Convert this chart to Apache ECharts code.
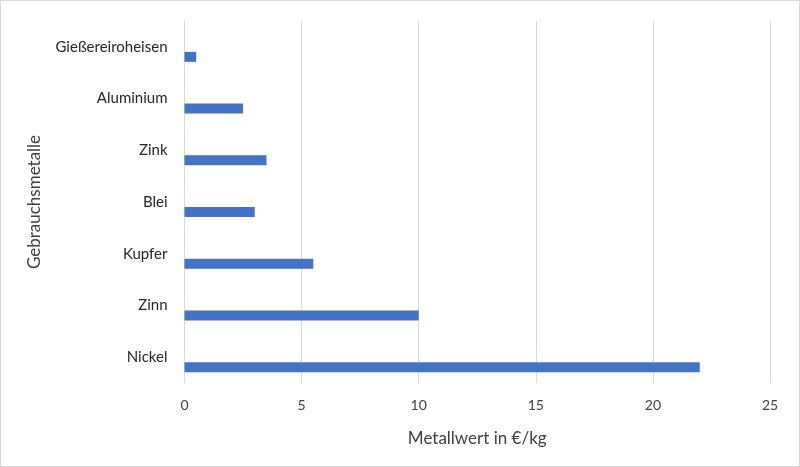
<!DOCTYPE html>
<html>
<head>
<meta charset="utf-8">
<script src="https://cdn.jsdelivr.net/npm/echarts@6/dist/echarts.min.js"></script>
<style>
html, body { margin: 0; padding: 0; background: #fff; }
#chart { width: 798px; height: 465px; border: 1px solid #d9d9d9; }
</style>
</head>
<body>
<div id="chart"></div>
<script>
// Metallwerte (€/kg)
const metalle = ['Nickel', 'Zinn', 'Kupfer', 'Blei', 'Zink', 'Aluminium', 'Gießereiroheisen'];
const werte = [22, 10, 5.5, 3, 3.5, 2.5, 0.5];
const leer = metalle.map(() => null);
const xTicks = { min: 0, max: 25, interval: 5 };

const chart = echarts.init(document.getElementById('chart'));

const textFont = 'Lato, "Open Sans", sans-serif';

const option = {
	backgroundColor: '#ffffff',
	animation: false,
	grid: {
		left: 183.5,
		right: 29,
		top: 20,
		bottom: 83
	},
	xAxis: {
		type: 'value',
		min: xTicks.min,
		max: xTicks.max,
		interval: xTicks.interval,
		name: 'Metallwert in €/kg',
		nameLocation: 'middle',
		nameGap: 47,
		nameTextStyle: { color: '#404040', fontSize: 17, fontFamily: textFont },
		axisLine: { show: false },
		axisTick: { show: false },
		axisLabel: { color: '#404040', fontSize: 14, margin: 15, fontFamily: textFont },
		splitLine: { lineStyle: { color: '#d9d9d9', width: 1 } }
	},
	yAxis: {
		type: 'category',
		data: metalle,
		name: 'Gebrauchsmetalle',
		nameLocation: 'middle',
		nameGap: 141,
		nameTextStyle: { color: '#404040', fontSize: 17, fontFamily: textFont },
		axisLine: { show: true, lineStyle: { color: '#d9d9d9' } },
		axisTick: { show: false },
		axisLabel: { color: '#262626', fontSize: 15, margin: 17, fontFamily: textFont }
	},
	series: [{
		type: 'bar',
		data: leer,
		barWidth: 10,
		barGap: '100%'
	}, {
		type: 'bar',
		data: werte,
		barWidth: 10,
		barGap: '100%',
		itemStyle: { color: '#4472c4' }
	}]
};

chart.setOption(option);
</script>
</body>
</html>
